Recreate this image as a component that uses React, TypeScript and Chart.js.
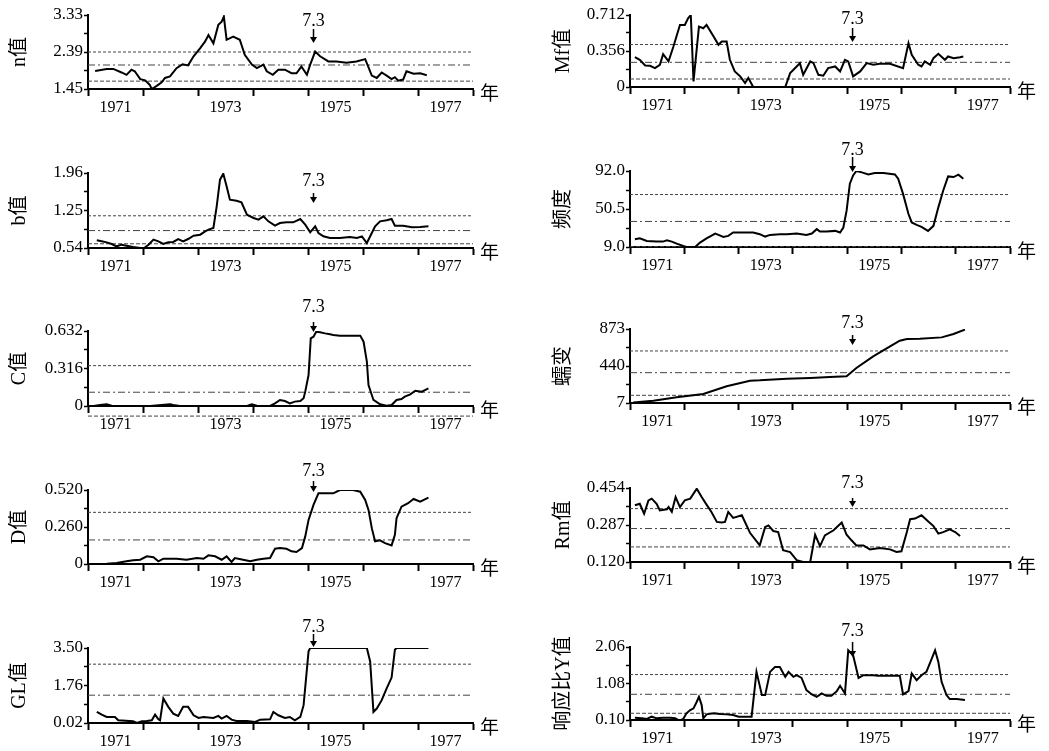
import React, { useEffect, useRef } from "react";
import { Chart, registerables } from "chart.js";

Chart.register(...registerables);

const SERIF = '"Liberation Serif", "Noto Sans CJK SC", serif';
const CJK = '"Noto Sans CJK SC", sans-serif';

// ---- shared axis data ----
const xTickYears = [1971, 1972, 1973, 1974, 1975, 1976, 1977, 1978];
const xLabelYears = [1971, 1973, 1975, 1977];
const eventYear = 1975.1;
const eventLabel = "7.3";
const yearUnit = "年";

// ---- n值 ----
const nYears = [1971.13,1971.34,1971.46,1971.61,1971.70,1971.79,1971.85,1971.95,1972.04,1972.12,1972.16,1972.25,1972.34,1972.40,1972.49,1972.61,1972.72,1972.82,1972.92,1973.04,1973.13,1973.19,1973.28,1973.37,1973.43,1973.47,1973.52,1973.64,1973.76,1973.85,1973.98,1974.07,1974.19,1974.25,1974.36,1974.46,1974.58,1974.70,1974.79,1974.88,1974.98,1975.04,1975.13,1975.22,1975.37,1975.52,1975.70,1975.88,1976.04,1976.16,1976.25,1976.34,1976.43,1976.52,1976.58,1976.64,1976.73,1976.79,1976.92,1977.04,1977.16];
const nVals = [1.91,1.96,1.96,1.87,1.81,1.94,1.90,1.70,1.67,1.56,1.45,1.53,1.62,1.73,1.77,1.98,2.08,2.05,2.28,2.49,2.66,2.82,2.61,3.08,3.16,3.29,2.70,2.78,2.70,2.32,2.07,1.98,2.07,1.90,1.81,1.94,1.94,1.85,1.85,2.02,1.81,2.07,2.40,2.28,2.15,2.15,2.12,2.15,2.21,1.79,1.73,1.87,1.79,1.70,1.75,1.66,1.69,1.90,1.84,1.85,1.80];
const nTicks = [1.45, 2.39, 3.33];
const nTickLabels = ["1.45", "2.39", "3.33"];
const nRefs = [2.39, 2.06, 1.65];

// ---- Mf值 ----
const mfYears = [1971.09,1971.18,1971.28,1971.37,1971.46,1971.55,1971.61,1971.71,1971.80,1971.92,1972.01,1972.07,1972.12,1972.17,1972.27,1972.35,1972.41,1972.54,1972.63,1972.69,1972.78,1972.84,1972.93,1973.03,1973.12,1973.18,1973.27,1973.58,1973.86,1973.95,1974.07,1974.13,1974.19,1974.32,1974.38,1974.47,1974.56,1974.65,1974.78,1974.87,1974.96,1975.02,1975.11,1975.24,1975.36,1975.48,1975.60,1975.79,1976.03,1976.13,1976.19,1976.31,1976.37,1976.43,1976.53,1976.59,1976.68,1976.80,1976.86,1976.96,1977.08,1977.14];
const mfVals = [0.295,0.269,0.213,0.210,0.187,0.220,0.325,0.253,0.400,0.614,0.614,0.679,0.712,0.056,0.597,0.581,0.614,0.499,0.417,0.449,0.449,0.269,0.154,0.105,0.039,0.089,0,0,0,0.138,0.203,0.236,0.121,0.253,0.236,0.121,0.112,0.187,0.203,0.154,0.269,0.253,0.105,0.154,0.236,0.220,0.230,0.230,0.187,0.433,0.318,0.220,0.203,0.253,0.220,0.285,0.328,0.269,0.302,0.285,0.295,0.302];
const mfTicks = [0, 0.356, 0.712];
const mfTickLabels = ["0", "0.356", "0.712"];
const mfRefs = [0.42, 0.244, 0.079];

// ---- b值 ----
const bYears = [1971.16,1971.25,1971.34,1971.43,1971.52,1971.61,1971.70,1971.82,1971.95,1972.01,1972.10,1972.19,1972.28,1972.37,1972.46,1972.55,1972.64,1972.73,1972.82,1972.92,1973.04,1973.13,1973.19,1973.28,1973.34,1973.40,1973.46,1973.52,1973.58,1973.70,1973.79,1973.89,1974.01,1974.10,1974.19,1974.28,1974.40,1974.49,1974.61,1974.73,1974.86,1974.95,1975.04,1975.13,1975.19,1975.28,1975.40,1975.58,1975.76,1975.89,1975.98,1976.07,1976.16,1976.22,1976.31,1976.43,1976.52,1976.58,1976.73,1976.89,1977.04,1977.19];
const bVals = [0.685,0.666,0.647,0.616,0.572,0.603,0.584,0.559,0.540,0.530,0.603,0.698,0.666,0.616,0.647,0.654,0.710,0.666,0.710,0.774,0.792,0.856,0.887,0.919,1.329,1.834,1.947,1.708,1.455,1.436,1.405,1.171,1.108,1.076,1.140,1.045,0.963,1.013,1.026,1.026,1.089,0.982,0.837,0.950,0.824,0.761,0.729,0.729,0.748,0.729,0.761,0.635,0.824,0.950,1.045,1.064,1.089,0.963,0.963,0.931,0.938,0.950];
const bTicks = [0.54, 1.25, 1.96];
const bTickLabels = ["0.54", "1.25", "1.96"];
const bRefs = [1.15, 0.87, 0.62];

// ---- 频度 ----
const fYears = [1971.09,1971.18,1971.31,1971.49,1971.61,1971.68,1971.77,1971.86,1971.98,1972.04,1972.20,1972.29,1972.41,1972.57,1972.63,1972.72,1972.81,1972.90,1973.03,1973.27,1973.39,1973.49,1973.58,1973.76,1973.89,1974.07,1974.25,1974.35,1974.44,1974.50,1974.62,1974.78,1974.87,1974.93,1974.99,1975.05,1975.11,1975.17,1975.27,1975.39,1975.51,1975.67,1975.88,1975.94,1976.03,1976.13,1976.19,1976.28,1976.37,1976.49,1976.59,1976.68,1976.77,1976.86,1976.96,1977.05,1977.14];
const fVals = [17.4,18.5,15.6,14.9,14.9,16.3,14.9,12.7,10.1,9.0,9.0,13.8,18.5,23.7,22.2,20.0,21.1,24.8,24.8,24.8,23.0,20.4,22.2,23.0,23.0,23.7,22.2,23.7,28.5,25.9,25.9,26.6,24.8,30.3,48.7,78.1,87.2,92.0,90.5,88.3,89.8,89.8,88.3,83.6,67.0,45.0,35.8,33.2,31.0,26.6,32.1,52.3,70.7,86.1,85.4,88.0,83.6];
const fTicks = [9.0, 50.5, 92.0];
const fTickLabels = ["9.0", "50.5", "92.0"];
const fRefs = [66.3, 36.9, 9.4];

// ---- C值 ----
const cYears = [1971.10,1971.22,1971.34,1971.43,1971.58,1972.13,1972.49,1972.55,1972.67,1973.34,1973.89,1973.98,1974.07,1974.31,1974.40,1974.49,1974.58,1974.67,1974.76,1974.86,1974.92,1974.95,1975.01,1975.05,1975.10,1975.15,1975.22,1975.31,1975.40,1975.46,1975.58,1975.76,1975.95,1976.01,1976.07,1976.10,1976.19,1976.31,1976.43,1976.52,1976.61,1976.70,1976.76,1976.86,1976.95,1977.07,1977.19];
const cVals = [0,0.008,0.014,0.003,0,0,0.014,0.008,0,0,0,0.014,0.003,0,0.022,0.051,0.042,0.022,0.037,0.042,0.065,0.121,0.261,0.570,0.584,0.626,0.621,0.612,0.604,0.598,0.593,0.593,0.593,0.542,0.374,0.177,0.051,0.014,0.003,0.008,0.051,0.059,0.079,0.098,0.129,0.121,0.149];
const cTicks = [0, 0.316, 0.632];
const cTickLabels = ["0", "0.316", "0.632"];
const cRefs = [0.34, 0.116, -0.085];

// ---- 蠕变 ----
const crYears = [1971.06,1971.43,1971.86,1972.35,1972.78,1973.21,1973.39,1973.89,1974.32,1974.68,1974.99,1975.17,1975.48,1975.79,1975.97,1976.10,1976.34,1976.74,1976.96,1977.17];
const crVals = [12,34,73,112,202,268,272,292,300,311,319,417,553,670,736,756,760,775,815,866];
const crTicks = [7, 440, 873];
const crTickLabels = ["7", "440", "873"];
const crRefs = [616, 362, 97];

// ---- D值 ----
const dYears = [1971.10,1971.22,1971.34,1971.52,1971.70,1971.82,1971.95,1972.07,1972.19,1972.28,1972.37,1972.61,1972.79,1972.98,1973.10,1973.19,1973.31,1973.43,1973.52,1973.61,1973.67,1973.82,1973.95,1974.07,1974.19,1974.31,1974.40,1974.49,1974.61,1974.70,1974.79,1974.89,1974.95,1975.01,1975.10,1975.19,1975.28,1975.46,1975.58,1975.82,1975.95,1976.04,1976.10,1976.16,1976.22,1976.31,1976.40,1976.52,1976.58,1976.61,1976.70,1976.82,1976.92,1977.04,1977.19];
const dVals = [0,0,0.002,0.007,0.019,0.026,0.030,0.054,0.047,0.019,0.037,0.037,0.030,0.042,0.037,0.061,0.054,0.030,0.054,0.014,0.042,0.030,0.019,0.030,0.037,0.042,0.107,0.112,0.107,0.089,0.084,0.112,0.194,0.310,0.415,0.497,0.497,0.497,0.520,0.520,0.508,0.450,0.380,0.252,0.159,0.166,0.147,0.131,0.205,0.322,0.403,0.427,0.457,0.438,0.466];
const dTicks = [0, 0.26, 0.52];
const dTickLabels = ["0", "0.260", "0.520"];
const dRefs = [0.363, 0.169];

// ---- Rm值 ----
const rmYears = [1971.09,1971.18,1971.26,1971.34,1971.40,1971.49,1971.55,1971.68,1971.71,1971.77,1971.84,1971.92,1972.01,1972.11,1972.23,1972.32,1972.41,1972.50,1972.60,1972.69,1972.75,1972.81,1972.90,1973.06,1973.21,1973.39,1973.49,1973.55,1973.64,1973.73,1973.82,1973.95,1974.07,1974.19,1974.32,1974.41,1974.50,1974.59,1974.75,1974.90,1974.99,1975.08,1975.17,1975.30,1975.42,1975.60,1975.79,1975.91,1976.00,1976.10,1976.16,1976.25,1976.37,1976.49,1976.59,1976.68,1976.77,1976.89,1976.99,1977.08];
const rmVals = [0.376,0.383,0.338,0.398,0.406,0.383,0.353,0.358,0.368,0.346,0.413,0.368,0.398,0.406,0.451,0.413,0.379,0.346,0.301,0.298,0.301,0.346,0.319,0.331,0.252,0.195,0.278,0.285,0.260,0.255,0.173,0.165,0.128,0.120,0.120,0.243,0.192,0.240,0.263,0.298,0.243,0.218,0.195,0.195,0.177,0.183,0.177,0.165,0.168,0.255,0.313,0.316,0.331,0.304,0.282,0.248,0.255,0.267,0.255,0.237];
const rmTicks = [0.12, 0.287, 0.454];
const rmTickLabels = ["0.120", "0.287", "0.454"];
const rmRefs = [0.361, 0.271, 0.188];

// ---- GL值 ----
const glYears = [1971.16,1971.25,1971.34,1971.49,1971.55,1971.82,1971.89,1971.98,1972.07,1972.16,1972.22,1972.28,1972.31,1972.37,1972.46,1972.55,1972.64,1972.73,1972.82,1972.92,1973.01,1973.10,1973.28,1973.37,1973.43,1973.52,1973.61,1973.70,1973.89,1974.04,1974.13,1974.31,1974.37,1974.46,1974.58,1974.67,1974.76,1974.86,1974.92,1975.01,1975.04,1976.07,1976.13,1976.19,1976.25,1976.34,1976.43,1976.52,1976.58,1976.61,1977.19];
const glVals = [0.535,0.410,0.301,0.301,0.145,0.098,0.02,0.098,0.114,0.145,0.410,0.192,0.145,1.159,0.769,0.457,0.348,0.769,0.769,0.379,0.254,0.301,0.254,0.348,0.223,0.348,0.176,0.114,0.114,0.067,0.176,0.192,0.535,0.379,0.254,0.301,0.145,0.301,0.847,3.344,3.50,3.50,2.876,0.535,0.691,1.081,1.627,2.127,3.422,3.50,3.50];
const glTicks = [0.02, 1.76, 3.5];
const glTickLabels = ["0.02", "1.76", "3.50"];
const glRefs = [2.75, 1.31];

// ---- 响应比Y值 ----
const yrYears = [1971.09,1971.22,1971.31,1971.40,1971.49,1971.61,1971.74,1971.83,1971.91,1971.98,1972.04,1972.11,1972.17,1972.23,1972.27,1972.32,1972.35,1972.41,1972.54,1972.66,1972.78,1972.90,1973.00,1973.24,1973.33,1973.43,1973.49,1973.58,1973.67,1973.76,1973.86,1973.92,1974.01,1974.07,1974.16,1974.25,1974.35,1974.44,1974.53,1974.62,1974.71,1974.81,1974.87,1974.96,1975.02,1975.11,1975.21,1975.30,1975.48,1975.57,1975.97,1976.03,1976.13,1976.19,1976.28,1976.37,1976.46,1976.62,1976.68,1976.74,1976.83,1976.89,1977.02,1977.17];
const yrVals = [0.162,0.145,0.127,0.189,0.145,0.162,0.162,0.145,0.082,0.127,0.278,0.367,0.412,0.590,0.724,0.501,0.145,0.251,0.278,0.260,0.251,0.234,0.189,0.189,1.392,0.768,0.768,1.392,1.525,1.525,1.258,1.392,1.258,1.303,1.231,0.902,0.786,0.724,0.813,0.750,0.750,0.875,1.018,0.813,1.971,1.837,1.231,1.303,1.303,1.285,1.285,0.786,0.875,1.347,1.169,1.303,1.392,1.971,1.659,1.125,0.768,0.661,0.661,0.635];
const yrTicks = [0.1, 1.08, 2.06];
const yrTickLabels = ["0.10", "1.08", "2.06"];
const yrRefs = [1.32, 0.79, 0.28];

// ---- layout (positions/styles, not data) ----
const Y_W = 80;
const X_H = 32;
const PAD_TOP = 34;
const PAD_R = 45;
const LEFT = { x0: 88, x1: 473, titlePad: 0 };
const RIGHT = { x0: 630, x1: 1010, titlePad: 2 };
const DASHES = [[3, 2], [7, 3, 2, 3], [4, 2]];

type PanelDef = {
  title: string;
  years: number[];
  vals: number[];
  ticks: number[];
  tickLabels: string[];
  refs: number[];
  col: { x0: number; x1: number; titlePad: number };
  top: number;
  bottom: number;
  textDy: number;
  a0: number;
  a1: number;
};

const panels: PanelDef[] = [
  { title: "n值", years: nYears, vals: nVals, ticks: nTicks, tickLabels: nTickLabels, refs: nRefs, col: LEFT, top: 15, bottom: 89, textDy: 6, a0: 14, a1: 28 },
  { title: "Mf值", years: mfYears, vals: mfVals, ticks: mfTicks, tickLabels: mfTickLabels, refs: mfRefs, col: RIGHT, top: 15, bottom: 87, textDy: 4, a0: 13, a1: 27 },
  { title: "b值", years: bYears, vals: bVals, ticks: bTicks, tickLabels: bTickLabels, refs: bRefs, col: LEFT, top: 173, bottom: 248, textDy: 8, a0: 20, a1: 30 },
  { title: "频度", years: fYears, vals: fVals, ticks: fTicks, tickLabels: fTickLabels, refs: fRefs, col: RIGHT, top: 171, bottom: 247, textDy: -21, a0: -14, a1: 1 },
  { title: "C值", years: cYears, vals: cVals, ticks: cTicks, tickLabels: cTickLabels, refs: cRefs, col: LEFT, top: 331, bottom: 406, textDy: -24, a0: -9, a1: 1 },
  { title: "蠕变", years: crYears, vals: crVals, ticks: crTicks, tickLabels: crTickLabels, refs: crRefs, col: RIGHT, top: 329, bottom: 403, textDy: -6, a0: 6, a1: 16 },
  { title: "D值", years: dYears, vals: dVals, ticks: dTicks, tickLabels: dTickLabels, refs: dRefs, col: LEFT, top: 490, bottom: 564, textDy: -19, a0: -9, a1: 2 },
  { title: "Rm值", years: rmYears, vals: rmVals, ticks: rmTicks, tickLabels: rmTickLabels, refs: rmRefs, col: RIGHT, top: 488, bottom: 562, textDy: -5, a0: 10, a1: 19 },
  { title: "GL值", years: glYears, vals: glVals, ticks: glTicks, tickLabels: glTickLabels, refs: glRefs, col: LEFT, top: 648, bottom: 723, textDy: -21, a0: -14, a1: -1 },
  { title: "响应比Y值", years: yrYears, vals: yrVals, ticks: yrTicks, tickLabels: yrTickLabels, refs: yrRefs, col: RIGHT, top: 647, bottom: 720, textDy: -16, a0: -5, a1: 10 },
];

const annotPlugin = {
  id: "annot",
  afterDraw(chart: any, _args: any, opts: any) {
    const { ctx, chartArea, scales } = chart;
    const x = scales.x.getPixelForValue(eventYear);
    ctx.save();
    ctx.fillStyle = "#000";
    ctx.strokeStyle = "#000";
    ctx.font = `18px ${SERIF}`;
    ctx.textAlign = "center";
    ctx.textBaseline = "middle";
    ctx.fillText(eventLabel, x, chartArea.top + opts.textDy);
    const y0 = chartArea.top + opts.a0;
    const y1 = chartArea.top + opts.a1;
    ctx.lineWidth = 1.5;
    ctx.beginPath();
    ctx.moveTo(x, y0);
    ctx.lineTo(x, y1 - 4);
    ctx.stroke();
    ctx.beginPath();
    ctx.moveTo(x - 3.5, y1 - 6);
    ctx.lineTo(x + 3.5, y1 - 6);
    ctx.lineTo(x, y1);
    ctx.closePath();
    ctx.fill();
    ctx.font = `19px ${CJK}`;
    ctx.textAlign = "left";
    ctx.fillText(yearUnit, chartArea.right + 7, chartArea.bottom + 4);
    ctx.restore();
  },
};

function Panel({ p }: { p: PanelDef }) {
  const ref = useRef<HTMLCanvasElement>(null);
  const width = p.col.x1 - p.col.x0 + Y_W + PAD_R;
  const height = p.bottom - p.top + PAD_TOP + X_H;

  useEffect(() => {
    const canvas = ref.current;
    if (!canvas) return;
    const [t0, t1, t2] = p.ticks;
    const yTickVals = [t0, (t0 + t1) / 2, t1, (t1 + t2) / 2, t2];
    const yTickText = [p.tickLabels[0], "", p.tickLabels[1], "", p.tickLabels[2]];
    const xTickVals: number[] = [];
    xTickYears.forEach((y, i) => {
      xTickVals.push(y);
      if (i < xTickYears.length - 1) xTickVals.push(y + 0.5);
    });
    const xMin = xTickYears[0];
    const xMax = xTickYears[xTickYears.length - 1];

    const refSets = p.refs.map((r, i) => ({
      data: [{ x: xMin, y: r }, { x: xMax, y: r }],
      borderColor: "#444",
      borderWidth: 1,
      borderDash: DASHES[i % DASHES.length],
      pointRadius: 0,
      clip: false as any,
      order: 2,
    }));

    const chart = new Chart(canvas, {
      type: "line",
      data: {
        datasets: [
          {
            data: p.years.map((x, i) => ({ x, y: p.vals[i] })),
            borderColor: "#000",
            borderWidth: 2,
            pointRadius: 0,
            tension: 0,
            order: 1,
          },
          ...refSets,
        ] as any,
      },
      options: {
        animation: false,
        responsive: false,
        events: [],
        layout: { padding: { top: PAD_TOP, right: PAD_R, left: 0, bottom: 0 } },
        plugins: {
          legend: { display: false },
          tooltip: { enabled: false },
          annot: { textDy: p.textDy, a0: p.a0, a1: p.a1 },
        } as any,
        scales: {
          x: {
            type: "linear",
            min: xMin,
            max: xMax,
            afterBuildTicks: (s: any) => {
              s.ticks = xTickVals.map((v) => ({ value: v }));
            },
            afterFit: (s: any) => {
              s.height = X_H;
            },
            ticks: {
              autoSkip: false,
              maxRotation: 0,
              padding: 2,
              color: "#000",
              font: { family: SERIF, size: 16 },
              callback: (v: any) => (xLabelYears.includes(v - 0.5) ? String(v - 0.5) : ""),
            },
            grid: {
              drawOnChartArea: false,
              drawTicks: true,
              tickLength: 7,
              tickWidth: 2,
              tickColor: (c: any) =>
                c.tick && Number.isInteger(c.tick.value) ? "#000" : "rgba(0,0,0,0)",
            },
            border: { display: true, color: "#000", width: 2 },
          },
          y: {
            type: "linear",
            min: t0,
            max: t2,
            afterBuildTicks: (s: any) => {
              s.ticks = yTickVals.map((v) => ({ value: v }));
            },
            afterFit: (s: any) => {
              s.width = Y_W;
            },
            ticks: {
              autoSkip: false,
              padding: 1,
              color: "#000",
              font: { family: SERIF, size: 17 },
              callback: (_v: any, i: number) => yTickText[i],
            },
            grid: {
              drawOnChartArea: false,
              drawTicks: true,
              tickLength: 4,
              tickWidth: 1.5,
              color: "#000",
            },
            border: { display: true, color: "#000", width: 2 },
            title: {
              display: true,
              text: p.title,
              color: "#000",
              font: { family: SERIF, size: 20 },
              padding: { top: p.col.titlePad, bottom: 0 },
            },
          },
        },
      } as any,
      plugins: [annotPlugin],
    });
    return () => chart.destroy();
  }, [p]);

  return (
    <canvas
      ref={ref}
      width={width}
      height={height}
      style={{
        position: "absolute",
        left: p.col.x0 - Y_W,
        top: p.top - PAD_TOP,
        width,
        height,
      }}
    />
  );
}

export default function App() {
  return (
    <div style={{ position: "absolute", left: 0, top: 0, width: 1049, height: 751, background: "#fff" }}>
      {panels.map((p) => (
        <Panel key={p.title} p={p} />
      ))}
    </div>
  );
}
